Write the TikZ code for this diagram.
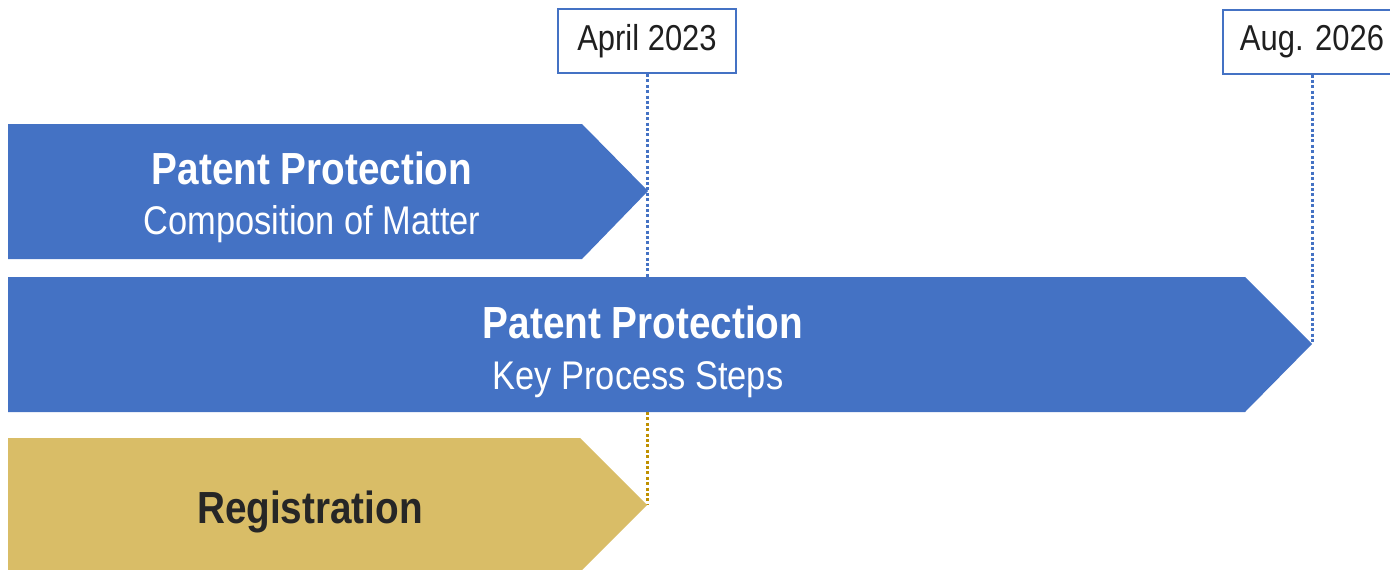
\documentclass[tikz,border=0pt]{standalone}
\usepackage{fontspec}
\setmainfont{Liberation Sans}[FakeStretch=0.86]
\definecolor{barblue}{HTML}{4472C4}
\definecolor{bargold}{HTML}{D9BD67}
\definecolor{dotgold}{HTML}{BF9000}
\definecolor{inkdark}{HTML}{262626}

\begin{document}
\begin{tikzpicture}[x=1pt,y=-1pt,
  datebox/.style={draw=barblue, line width=2pt, fill=white,
    minimum width=178pt, minimum height=64pt, inner sep=0pt,
    font=\fontsize{36}{40}\selectfont, text=black!88},
  guide/.style={line width=3pt, dash pattern=on 3pt off 2.4pt},
  head/.style={font=\bfseries\fontsize{45}{50}\selectfont, anchor=base, inner sep=0pt},
  sub/.style={font=\fontsize{40}{44}\selectfont, anchor=base, inner sep=0pt},
]
\useasboundingbox (0,0) rectangle (1390,570);
\clip (0,0) rectangle (1390,570);

% arrow tips and guide ends
\coordinate (tipA) at (648,191);
\coordinate (tipB) at (1312,344);
\coordinate (tipC) at (647,505);
\coordinate (barBtop) at (647,277);
\coordinate (barBbot) at (647,412);

% milestone labels
\node[datebox] (april) at (647,41) {April 2023};
\node[datebox] (aug) at (1312,41.5) {Aug. 2026};

% dotted guides behind the bars
\draw[guide, barblue] (april.south) -- (barBtop);
\draw[guide, barblue] (aug.south) -- (tipB);
\draw[guide, dotgold] (barBbot) -- (tipC);

% bars
\fill[barblue] (8,124) -- (582,124) -- (tipA) -- (582,259) -- (8,259) -- cycle;
\fill[barblue] (8,277) -- (1245,277) -- (tipB) -- (1245,412) -- (8,412) -- cycle;
\fill[bargold] (8,438) -- (580,438) -- (tipC) -- (580,572) -- (8,572) -- cycle;

% bar texts
\node[head, text=white] (t1) at (312,184) {Patent Protection};
\node[sub, text=white] (s1) at (312,234) {Composition of Matter};
\node[head, text=white] (t2) at (643,338) {Patent Protection};
\node[sub, text=white] (s2) at (638,389) {Key Process Steps};
\node[head, text=inkdark] (t3) at (310,523) {Registration};
\end{tikzpicture}
\end{document}
